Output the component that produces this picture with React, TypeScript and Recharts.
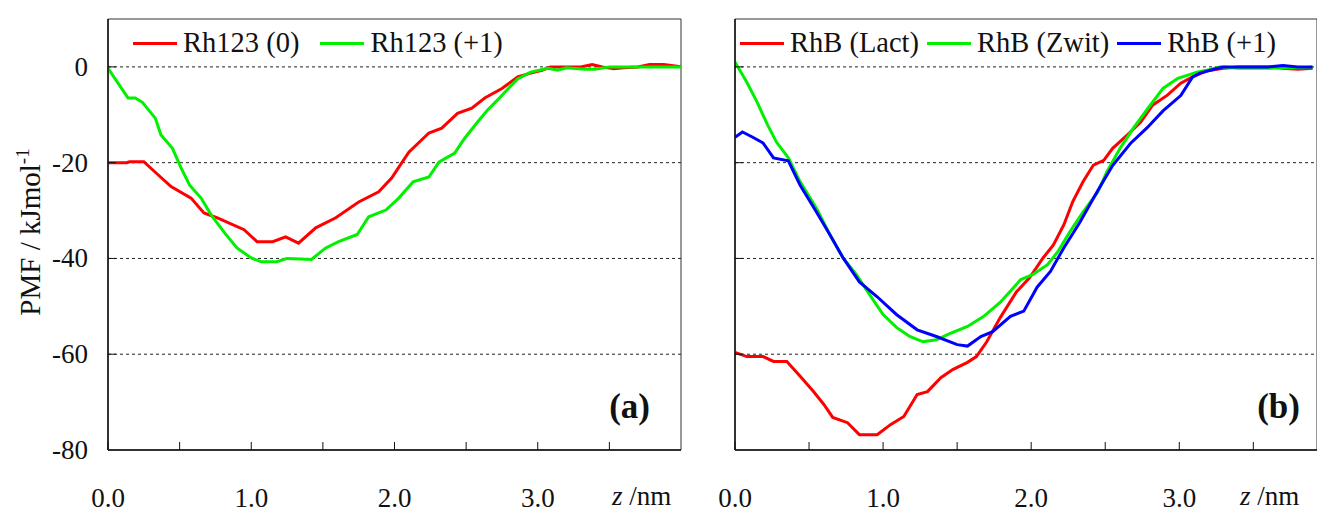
import React from "react";
import {
  Customized,
  Legend,
  Line,
  LineChart,
  ReferenceArea,
  ReferenceLine,
  XAxis,
  YAxis,
} from "recharts";

const FONT = '"Liberation Serif", "Times New Roman", serif';

// panel (a): Rh123
const rh123NeutralZ = [0, 0.13, 0.15, 0.25, 0.33, 0.44, 0.58, 0.67, 0.76, 0.95, 1.04, 1.15, 1.24, 1.33, 1.45, 1.59, 1.75, 1.89, 1.98, 2.1, 2.24, 2.33, 2.44, 2.54, 2.63, 2.75, 2.86, 2.95, 3.03, 3.09, 3.2, 3.3, 3.38, 3.45, 3.53, 3.6, 3.7, 3.78, 3.88, 4.0];
const rh123NeutralPmf = [-20, -20, -19.8, -19.8, -22, -25, -27.4, -30.5, -31.5, -34, -36.5, -36.5, -35.5, -36.8, -33.6, -31.5, -28.2, -26.1, -23.2, -17.8, -13.8, -12.8, -9.7, -8.6, -6.5, -4.5, -2.1, -1.3, -0.7, 0, 0, 0, 0.5, 0, -0.4, -0.2, 0, 0.5, 0.5, 0];

const rh123CationZ = [0, 0.07, 0.14, 0.19, 0.24, 0.33, 0.37, 0.45, 0.51, 0.57, 0.65, 0.72, 0.81, 0.9, 1.0, 1.07, 1.18, 1.25, 1.42, 1.52, 1.61, 1.74, 1.82, 1.94, 2.03, 2.13, 2.24, 2.31, 2.42, 2.49, 2.58, 2.65, 2.72, 2.77, 2.86, 2.95, 3.07, 3.14, 3.2, 3.33, 3.4, 3.5, 3.6, 3.7, 3.8, 3.9, 4.0];
const rh123CationPmf = [-0.3, -3.4, -6.5, -6.5, -7.4, -10.7, -14.2, -17, -21.1, -24.7, -27.4, -30.9, -34.5, -37.8, -39.9, -40.7, -40.7, -40, -40.2, -37.8, -36.5, -35, -31.3, -29.9, -27.4, -24, -23, -19.9, -18, -14.9, -11.5, -9, -6.9, -5.3, -2.5, -1.1, -0.3, -0.7, -0.2, -0.5, -0.5, 0, 0, 0, 0, 0, 0];

// panel (b): RhB
const rhbLactZ = [0, 0.08, 0.19, 0.26, 0.35, 0.44, 0.53, 0.6, 0.66, 0.76, 0.84, 0.96, 1.05, 1.14, 1.23, 1.3, 1.39, 1.47, 1.57, 1.63, 1.7, 1.79, 1.9, 1.99, 2.08, 2.15, 2.22, 2.28, 2.35, 2.42, 2.49, 2.55, 2.65, 2.74, 2.82, 2.92, 3.01, 3.09, 3.19, 3.3, 3.4, 3.5, 3.6, 3.7, 3.8, 3.9];
const rhbLactPmf = [-59.6, -60.5, -60.5, -61.5, -61.5, -64.6, -67.8, -70.5, -73.2, -74.3, -76.8, -76.8, -74.7, -73, -68.4, -67.8, -64.9, -63.2, -61.7, -60.5, -57.4, -52.4, -47, -44, -39.9, -37.2, -33, -28.2, -24, -20.5, -19.5, -17, -14.2, -11.5, -8, -5.9, -3.4, -2.1, -0.8, -0.3, 0, 0, 0, -0.3, -0.5, -0.3];

const rhbZwitZ = [0, 0.08, 0.15, 0.22, 0.28, 0.36, 0.44, 0.55, 0.64, 0.73, 0.82, 0.91, 1.0, 1.09, 1.18, 1.27, 1.36, 1.45, 1.57, 1.68, 1.79, 1.93, 2.01, 2.11, 2.18, 2.26, 2.35, 2.45, 2.51, 2.6, 2.69, 2.78, 2.89, 2.99, 3.12, 3.2, 3.28, 3.4, 3.5, 3.6, 3.7, 3.8, 3.9];
const rhbZwitPmf = [1, -3.2, -7.4, -12.1, -15.7, -19, -24, -29.5, -35, -39.9, -43.4, -47.6, -51.7, -54.4, -56.3, -57.4, -57, -55.7, -54.2, -52.1, -49.2, -44.4, -43.4, -41.3, -38.6, -34.5, -30.3, -26.1, -22, -17, -12.8, -9, -4.5, -2.4, -1.1, -0.6, 0, -0.3, -0.3, -0.3, -0.2, -0.2, -0.1];

const rhbCationZ = [0, 0.05, 0.12, 0.19, 0.26, 0.36, 0.44, 0.55, 0.64, 0.73, 0.84, 0.96, 1.09, 1.23, 1.36, 1.5, 1.57, 1.66, 1.74, 1.86, 1.95, 2.04, 2.13, 2.22, 2.33, 2.45, 2.55, 2.67, 2.78, 2.89, 3.01, 3.09, 3.14, 3.26, 3.3, 3.4, 3.5, 3.6, 3.7, 3.8, 3.9];
const rhbCationPmf = [-14.7, -13.6, -14.7, -15.9, -19, -19.6, -24.7, -30.3, -35, -39.9, -44.9, -48, -51.7, -54.9, -56.3, -58, -58.3, -56.3, -55.3, -52.1, -51, -46, -42.7, -37.8, -32.4, -25.8, -20.6, -16, -12.8, -9.2, -6, -2.1, -1.3, -0.3, 0, 0, 0, 0, 0.3, 0, 0];

const zTicks = [0, 0.5, 1, 1.5, 2, 2.5, 3, 3.5];
const pmfTicks = [-80, -60, -40, -20, 0];
const gridLevels = [0, -20, -40, -60];

const toPoints = (z: number[], pmf: number[]) => z.map((v, i) => ({ z: v, pmf: pmf[i] }));

const panelA = [
  { name: "Rh123 (0)", color: "#ff0000", data: toPoints(rh123NeutralZ, rh123NeutralPmf) },
  { name: "Rh123 (+1)", color: "#00f000", data: toPoints(rh123CationZ, rh123CationPmf) },
];

const panelB = [
  { name: "RhB (Lact)", color: "#ff0000", data: toPoints(rhbLactZ, rhbLactPmf) },
  { name: "RhB (Zwit)", color: "#00f000", data: toPoints(rhbZwitZ, rhbZwitPmf) },
  { name: "RhB (+1)", color: "#0000ff", data: toPoints(rhbCationZ, rhbCationPmf) },
];

function XTick(props: any) {
  const { x, y, payload } = props;
  const v = payload.value;
  return (
    <g>
      <line x1={x} x2={x} y1={y} y2={y - 8} stroke="#111" strokeWidth={1} />
      {Number.isInteger(v) && (
        <text x={x} y={y + 57} textAnchor="middle" fontSize={27} fontFamily={FONT} fill="#111">
          {v.toFixed(1)}
        </text>
      )}
    </g>
  );
}

function YTick(props: any) {
  const { x, y, payload, showLabel } = props;
  const v = payload.value;
  return (
    <g>
      {v > -80 && <line x1={x} x2={x + 8} y1={y} y2={y} stroke="#111" strokeWidth={1} />}
      {showLabel && (
        <text x={x - 20} y={y + 9} textAnchor="end" fontSize={27} fontFamily={FONT} fill="#111">
          {v}
        </text>
      )}
    </g>
  );
}

function LegendRow({ items, gap }: { items: typeof panelB; gap: number }) {
  return (
    <div style={{ display: "flex", alignItems: "center", fontFamily: FONT, fontSize: 28.5, lineHeight: "28px", color: "#111", whiteSpace: "nowrap" }}>
      {items.map((s) => (
        <div key={s.name} style={{ display: "flex", alignItems: "center", marginRight: gap }}>
          <span style={{ display: "inline-block", width: 44, height: 3, background: s.color, marginRight: 6 }} />
          <span>{s.name}</span>
        </div>
      ))}
    </div>
  );
}

function Panel(props: {
  left: number;
  width: number;
  axisWidth: number;
  rightMargin: number;
  xMax: number;
  series: typeof panelB;
  showYLabels: boolean;
  legendLeft: number;
  legendGap: number;
  tag: string;
  tagX: number;
  unitX: number;
}) {
  const { left, width, axisWidth, rightMargin, xMax, series, showYLabels, legendLeft, legendGap, tag, tagX, unitX } = props;
  return (
    <div style={{ position: "absolute", left, top: 0 }}>
      <LineChart width={width} height={512} margin={{ top: 19, right: rightMargin, bottom: 0, left: 0 }}>
        <XAxis
          type="number"
          dataKey="z"
          domain={[0, xMax]}
          ticks={zTicks}
          allowDataOverflow
          height={62}
          tickSize={0}
          tickMargin={0}
          tickLine={false}
          axisLine={{ stroke: "#111", strokeWidth: 1.5 }}
          tick={(p: any) => <XTick {...p} />}
        />
        <YAxis
          type="number"
          domain={[-80, 10]}
          ticks={pmfTicks}
          allowDataOverflow
          width={axisWidth}
          tickSize={0}
          tickMargin={0}
          tickLine={false}
          axisLine={{ stroke: "#111", strokeWidth: 1.5 }}
          tick={(p: any) => <YTick {...p} showLabel={showYLabels} />}
        />
        <ReferenceArea x1={0} x2={xMax} y1={-80} y2={10} fill="none" stroke="#333" strokeWidth={1} />
        {gridLevels.map((v) => (
          <ReferenceLine key={v} y={v} stroke="#222" strokeWidth={1} strokeDasharray="3 3" />
        ))}
        {series.map((s) => (
          <Line
            key={s.name}
            data={s.data}
            dataKey="pmf"
            name={s.name}
            type="linear"
            stroke={s.color}
            strokeWidth={3}
            dot={false}
            activeDot={false}
            isAnimationActive={false}
          />
        ))}
        <Legend
          layout="horizontal"
          verticalAlign="middle"
          align="center"
          wrapperStyle={{ top: 29, left: legendLeft, width: "auto" }}
          content={() => <LegendRow items={series} gap={legendGap} />}
        />
        <Customized
          component={() => (
            <g fontFamily={FONT} fill="#111">
              <text x={tagX} y={418} textAnchor="end" fontSize={35} fontWeight="bold">
                {tag}
              </text>
              <text x={unitX} y={505} fontSize={27}>
                <tspan fontStyle="italic">z</tspan>
                <tspan> /nm</tspan>
              </text>
              {showYLabels && (
                <text x={40} y={232} transform="rotate(-90 40 232)" textAnchor="middle" fontSize={29}>
                  PMF / kJmol
                  <tspan dy={-11} fontSize={19}>-1</tspan>
                </text>
              )}
            </g>
          )}
        />
      </LineChart>
    </div>
  );
}

export default function App() {
  return (
    <div style={{ position: "absolute", left: 0, top: 0, width: 1317, height: 512, background: "#fff", fontFamily: FONT }}>
      <Panel
        left={0}
        width={700}
        axisWidth={108}
        rightMargin={19}
        xMax={4}
        series={panelA}
        showYLabels
        legendLeft={133}
        legendGap={21}
        tag="(a)"
        tagX={650}
        unitX={612}
      />
      <Panel
        left={650}
        width={667}
        axisWidth={85}
        rightMargin={0}
        xMax={3.93}
        series={panelB}
        showYLabels={false}
        legendLeft={90}
        legendGap={8}
        tag="(b)"
        tagX={650}
        unitX={590}
      />
    </div>
  );
}
